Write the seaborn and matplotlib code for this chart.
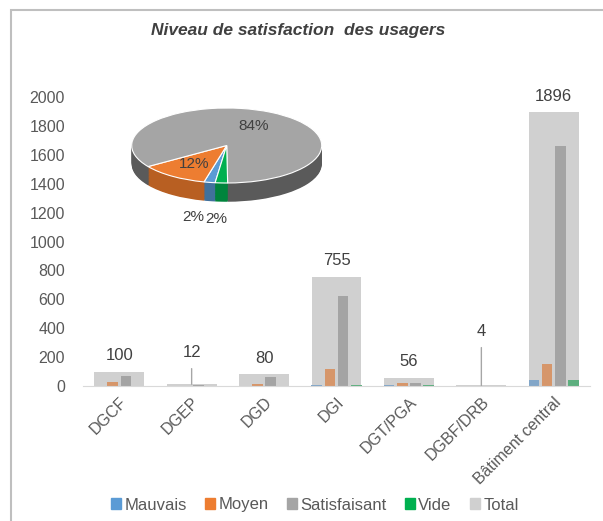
import numpy as np
import pandas as pd
import matplotlib
matplotlib.use('Agg')
import matplotlib.pyplot as plt
import seaborn as sns
from matplotlib.patches import Rectangle, Patch

# ── Data ─────────────────────────────────────────────
sites = ['DGCF', 'DGEP', 'DGD', 'DGI', 'DGT/PGA', 'DGBF/DRB', 'Bâtiment central']
niveaux = ['Mauvais', 'Moyen', 'Satisfaisant', 'Vide']
mauvais = [2, 0, 2, 5, 5, 1, 40]
moyen = [25, 1, 15, 120, 22, 1, 155]
satisfaisant = [70, 10, 60, 623, 22, 2, 1661]
vide = [3, 1, 3, 7, 7, 0, 40]
total = [100, 12, 80, 755, 56, 4, 1896]

# legend / pie colours and the faded versions seen inside the total bars
colors = {'Mauvais': '#5B9BD5', 'Moyen': '#ED7D31',
          'Satisfaisant': '#A5A5A5', 'Vide': '#00B050'}
faded = {'Mauvais': '#82A6C8', 'Moyen': '#D6966A',
         'Satisfaisant': '#A4A4A4', 'Vide': '#5DAF7F'}
side_colors = ['#41719C', '#B85F22', '#5A5A5A', '#00843C']
total_color = '#D0D0D0'
txt = '#595959'

df = pd.DataFrame({
    'site': sites * 4,
    'niveau': np.repeat(niveaux, len(sites)),
    'value': mauvais + moyen + satisfaisant + vide,
})

sns.set_style('white')
plt.rcParams['font.family'] = ['Liberation Sans', 'DejaVu Sans']

W, H = 603, 521
fig = plt.figure(figsize=(W / 100, H / 100), dpi=100)

# ── Bar chart ────────────────────────────────────────
ax = fig.add_axes([83 / W, 1 - 386 / H, (590 - 83) / W, (386 - 97) / H])
sns.barplot(x=sites, y=total, color=total_color, width=0.69, saturation=1,
            errorbar=None, linewidth=0, ax=ax, zorder=1)
sns.barplot(data=df, x='site', y='value', hue='niveau', hue_order=niveaux,
            palette=faded, width=0.73, gap=0.2, saturation=1,
            errorbar=None, linewidth=0, legend=False, ax=ax, zorder=2)

ax.set_ylim(0, 2000)
ax.set_yticks(range(0, 2001, 200))
ax.set_xlim(-0.5, len(sites) - 0.5)
ax.set_xlabel('')
ax.set_ylabel('')
for s in ['top', 'right', 'left']:
    ax.spines[s].set_visible(False)
ax.spines['bottom'].set_color('#D9D9D9')
ax.tick_params(axis='y', length=0, pad=13, labelsize=11.5, labelcolor=txt)
ax.tick_params(axis='x', length=0, pad=6, labelsize=11.5, labelcolor=txt)
plt.setp(ax.get_xticklabels(), rotation=45, ha='right', rotation_mode='anchor')

# total labels (two of them moved up with a leader line)
moved = {1: 23, 5: 39}
for i, t in enumerate(total):
    if i in moved:
        ax.annotate(str(t), xy=(i, t), xytext=(0, moved[i]), textcoords='offset points',
                    ha='center', va='center', fontsize=12, color='#404040',
                    arrowprops=dict(arrowstyle='-', color='#A6A6A6', lw=1,
                                    shrinkA=4, shrinkB=0))
    else:
        ax.annotate(str(t), xy=(i, t), xytext=(0, 11.5), textcoords='offset points',
                    ha='center', va='center', fontsize=12, color='#404040')

# ── Pie (fake 3D) ────────────────────────────────────
pie_vals = [sum(mauvais), sum(moyen), sum(satisfaisant), sum(vide)]
pie_colors = [colors[n] for n in niveaux]
ax2 = fig.add_axes([131.7 / W, 1 - 228 / H, 190 / W, 123.75 / H])
for k in np.linspace(-0.5, -0.02, 25):
    ax2.pie(pie_vals, colors=side_colors, startangle=-97, counterclock=False,
            center=(0, k), wedgeprops=dict(linewidth=0))
wedges, _, autotexts = ax2.pie(
    pie_vals, colors=pie_colors, startangle=-97, counterclock=False,
    autopct='%1.0f%%', pctdistance=0.6,
    wedgeprops=dict(linewidth=0.8, edgecolor='white'),
    textprops=dict(fontsize=11, color='#404040'))
for w, at, v in zip(wedges, autotexts, pie_vals):
    if v / sum(pie_vals) < 0.05:
        a = np.deg2rad((w.theta1 + w.theta2) / 2)
        at.set_position((1.95 * np.cos(a), 1.95 * np.sin(a)))
ax2.set_aspect('auto')
ax2.set_xlim(-1, 1)
ax2.set_ylim(-2.2, 1.1)
ax2.axis('off')

# ── Title, legend, frame ─────────────────────────────
fig.text(298 / W, 1 - 30 / H, 'Niveau de satisfaction  des usagers',
         ha='center', va='center', fontsize=12.5, fontweight='bold',
         style='italic', color='#404040')

handles = [Patch(color=colors[n], label=n) for n in niveaux]
handles.append(Patch(color=total_color, label='Total'))
fig.legend(handles=handles, loc='center', bbox_to_anchor=(315 / W, 1 - 505 / H),
           ncol=5, frameon=False, fontsize=12, labelcolor=txt,
           handlelength=0.6, handleheight=0.6, handletextpad=0.2,
           columnspacing=1.1)

fig.patches.append(Rectangle((11 / W, -0.1), 1.2, 1.1 - 10 / H,
                             transform=fig.transFigure, fill=False,
                             edgecolor='#BFBFBF', lw=1.5))

fig.savefig('out.png', dpi=100)
